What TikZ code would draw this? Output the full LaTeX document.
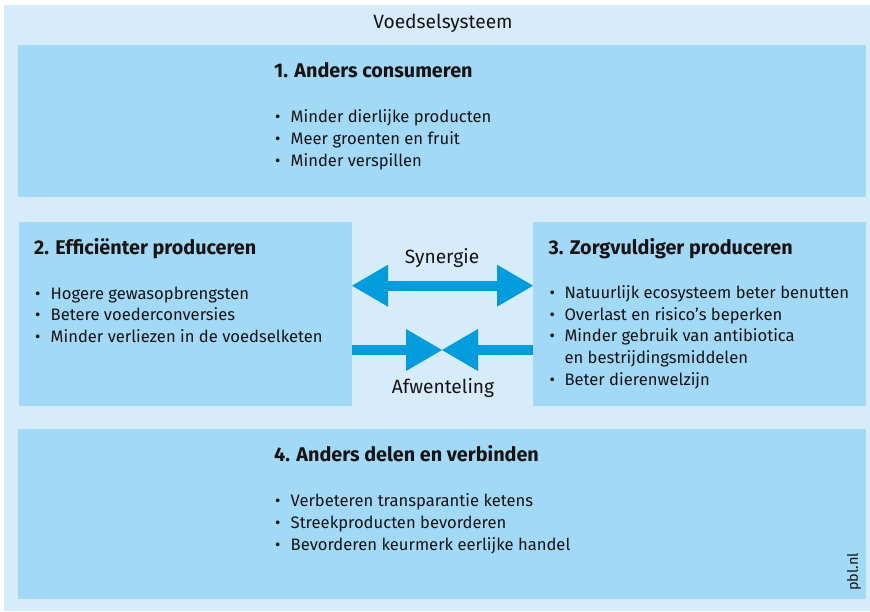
\documentclass[tikz,border=0pt]{standalone}
\usepackage{fontspec}
\setmainfont{Fira Sans}
\usetikzlibrary{arrows.meta}
\definecolor{bgblue}{RGB}{214,236,250}
\definecolor{boxblue}{RGB}{162,217,247}
\definecolor{arrblue}{RGB}{0,156,222}
\definecolor{txt}{RGB}{20,20,20}
\tikzset{
  panel/.style={fill=boxblue, draw=none, inner sep=0pt, outer sep=0pt},
  head/.style={anchor=base west, inner sep=0pt, font=\fontsize{19.8}{22}\selectfont\bfseries, text=txt},
  item/.style={anchor=base west, inner sep=0pt, font=\fontsize{16.6}{20}\selectfont, text=txt},
  lbl/.style={anchor=base, inner sep=0pt, font=\fontsize{19.2}{22}\selectfont, text=txt},
  bigarrow/.style={draw=arrblue, line width=10pt},
}
\begin{document}
\begin{tikzpicture}[x=1pt,y=-1pt]
\useasboundingbox (0,0) rectangle (870,611);
\fill[white] (0,0) rectangle (870,611);
\fill[bgblue] (4,5) rectangle (870,611);
% panels
\node[panel, anchor=north west, minimum width=848pt, minimum height=152pt] (b1) at (18,45) {};
\node[panel, anchor=north west, minimum width=333pt, minimum height=184pt] (b2) at (19,222) {};
\node[panel, anchor=north west, minimum width=333pt, minimum height=184pt] (b3) at (533,222) {};
\node[panel, anchor=north west, minimum width=848pt, minimum height=170pt] (b4) at (18,429) {};
% title
\node[lbl] (title) at (443,28) {Voedselsysteem};
% box 1
\node[head] (h1) at (274,77.3) {1. Anders consumeren};
\node[item] (p11) at (275,122.7) {•}; \node[item] (t11) at (290.5,122.7) {Minder dierlijke producten};
\node[item] (p12) at (275,144.4) {•}; \node[item] (t12) at (290.5,144.4) {Meer groenten en fruit};
\node[item] (p13) at (275,166.1) {•}; \node[item] (t13) at (290.5,166.1) {Minder verspillen};
% box 2
\node[head] (h2) at (34,254) {2. Efficiënter produceren};
\node[item] (p21) at (35,299) {•}; \node[item] (t21) at (50.5,299) {Hogere gewasopbrengsten};
\node[item] (p22) at (35,320.7) {•}; \node[item] (t22) at (50.5,320.7) {Betere voederconversies};
\node[item] (p23) at (35,342.4) {•}; \node[item] (t23) at (50.5,342.4) {Minder verliezen in de voedselketen};
% box 3
\node[head] (h3) at (548.3,254.5) {3. Zorgvuldiger produceren};
\node[item] (p31) at (549.5,298.3) {•}; \node[item] (t31) at (564.3,298.3) {Natuurlijk ecosysteem beter benutten};
\node[item] (p32) at (549.5,320) {•}; \node[item] (t32) at (564.3,320) {Overlast en risico’s beperken};
\node[item] (p33) at (549.5,341.7) {•}; \node[item] (t33) at (564.3,341.7) {Minder gebruik van antibiotica};
\node[item] (t34) at (564.3,363.4) {en bestrijdingsmiddelen};
\node[item] (p35) at (549.5,385.1) {•}; \node[item] (t35) at (564.3,385.1) {Beter dierenwelzijn};
% box 4
\node[head] (h4) at (274,461.5) {4. Anders delen en verbinden};
\node[item] (p41) at (275,506.7) {•}; \node[item] (t41) at (290.5,506.7) {Verbeteren transparantie ketens};
\node[item] (p42) at (275,528.4) {•}; \node[item] (t42) at (290.5,528.4) {Streekproducten bevorderen};
\node[item] (p43) at (275,550.1) {•}; \node[item] (t43) at (290.5,550.1) {Bevorderen keurmerk eerlijke handel};
\node[inner sep=0pt, rotate=90, font=\fontsize{14.5}{16}\selectfont, text=txt] (pbl) at (854,572) {pbl.nl};
% arrows
\node[lbl] (syn) at (442,263.3) {Synergie};
\node[lbl] (afw) at (443,393.3) {Afwenteling};
\coordinate (sL) at (b2.east |- 0,285.7);
\coordinate (sR) at (b3.west |- 0,285.7);
\draw[bigarrow, {Triangle[length=36pt,width=42pt,line width=0pt]}-{Triangle[length=36pt,width=42pt,line width=0pt]}] (sL) -- (sR);
\coordinate (aL) at (b2.east |- 0,350);
\coordinate (aR) at (b3.west |- 0,350);
\coordinate (aM) at (442,350);
\draw[bigarrow, -{Triangle[length=36pt,width=42pt,line width=0pt]}] (aL) -- (aM);
\draw[bigarrow, -{Triangle[length=36pt,width=42pt,line width=0pt]}] (aR) -- (aM);
\end{tikzpicture}
\end{document}
